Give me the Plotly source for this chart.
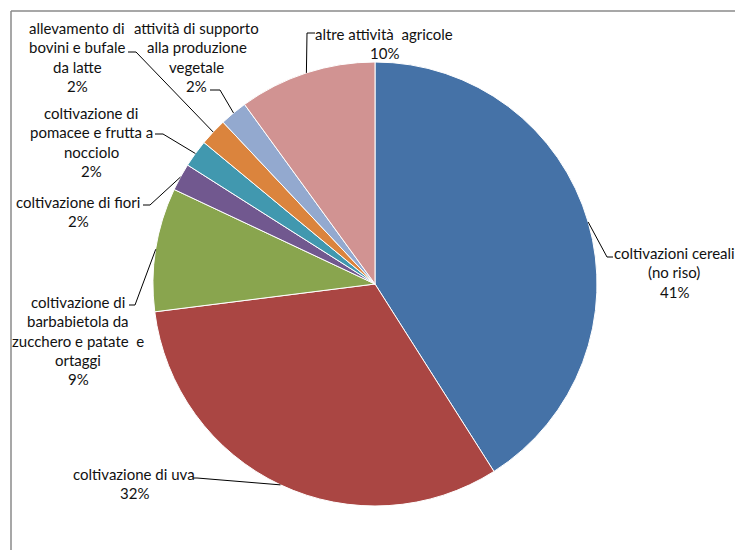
import math
import plotly.graph_objects as go

# Ripartizione delle attività agricole (%)
categories = [
    "coltivazioni cereali (no riso)",
    "coltivazione di uva",
    "coltivazione di barbabietola da zucchero e patate e ortaggi",
    "coltivazione di fiori",
    "coltivazione di pomacee e frutta a nocciolo",
    "allevamento di bovini e bufale da latte",
    "attività di supporto alla produzione vegetale",
    "altre attività  agricole",
]
values = [41, 32, 9, 2, 2, 2, 2, 10]
label_lines = [
    ["coltivazioni cereali", "(no riso)"],
    ["coltivazione di uva"],
    ["coltivazione di", "barbabietola da", "zucchero e patate  e", "ortaggi"],
    ["coltivazione di fiori"],
    ["coltivazione di", "pomacee e frutta a", "nocciolo"],
    ["allevamento di", "bovini e bufale", "da latte"],
    ["attività di supporto", "alla produzione", "vegetale"],
    ["altre attività  agricole"],
]
colors = ["#4572A7", "#AA4643", "#89A54E", "#71588F",
          "#4198AF", "#DB843D", "#93A9CF", "#D19392"]

W, H = 735, 550
CX, CY, R = 375, 284, 222          # pie centre and radius in pixels
LINE_H = 19.3                       # label line spacing

# label layout: (text centre x, first line y), leader elbow, leader end
label_pos = [(674, 253), (134, 474), (78, 302), (78, 202),
             (91, 113), (77, 28), (197, 28), (384, 34)]
elbows = [((607, 257), (613, 257)), ((197, 478), (193, 478)),
          ((135, 305), (129, 305)), ((150, 205), (143, 205)),
          ((163, 134), (155, 134)), ((136, 52), (128, 52)),
          ((220, 90), (210, 90)), ((307, 33), (315, 33))]


def px(x):
    return x / W


def py(y):
    return 1 - y / H


fig = go.Figure(go.Pie(
    labels=categories,
    values=values,
    sort=False,
    direction="clockwise",
    rotation=0,
    marker=dict(colors=colors, line=dict(color="white", width=1)),
    textinfo="none",
    hoverinfo="label+percent",
    showlegend=False,
    domain=dict(x=[px(CX - R), px(CX + R)], y=[py(CY + R), py(CY - R)]),
))

font = dict(family="Lato, Liberation Sans, sans-serif", size=15, color="#111111")
annotations = []
shapes = []
total = sum(values)
cum = 0
for i, v in enumerate(values):
    mid = (cum + v / 2) / total * 2 * math.pi
    cum += v
    sx = CX + R * math.sin(mid)
    sy = CY - R * math.cos(mid)
    (ex, ey), (tx, ty) = elbows[i]
    shapes.append(dict(
        type="path", xref="paper", yref="paper",
        path=f"M {px(sx)} {py(sy)} L {px(ex)} {py(ey)} L {px(tx)} {py(ty)}",
        line=dict(color="black", width=1),
    ))
    lx, ly = label_pos[i]
    pct = f"{round(v / total * 100)}%"
    for j, t in enumerate(label_lines[i] + [pct]):
        annotations.append(dict(
            x=px(lx), y=py(ly + j * LINE_H), xref="paper", yref="paper",
            text=t, showarrow=False, xanchor="center", yanchor="middle",
            font=font,
        ))

# chart frame (top and left edges)
shapes.append(dict(type="line", xref="paper", yref="paper",
                   x0=px(11), y0=py(11), x1=1.01, y1=py(11),
                   line=dict(color="#8a8a8a", width=1.5)))
shapes.append(dict(type="line", xref="paper", yref="paper",
                   x0=px(11), y0=py(11), x1=px(11), y1=-0.01,
                   line=dict(color="#8a8a8a", width=1.5)))

fig.update_layout(
    width=W, height=H,
    margin=dict(l=0, r=0, t=0, b=0),
    paper_bgcolor="white",
    plot_bgcolor="white",
    annotations=annotations,
    shapes=shapes,
)

fig.write_html("out.html")
